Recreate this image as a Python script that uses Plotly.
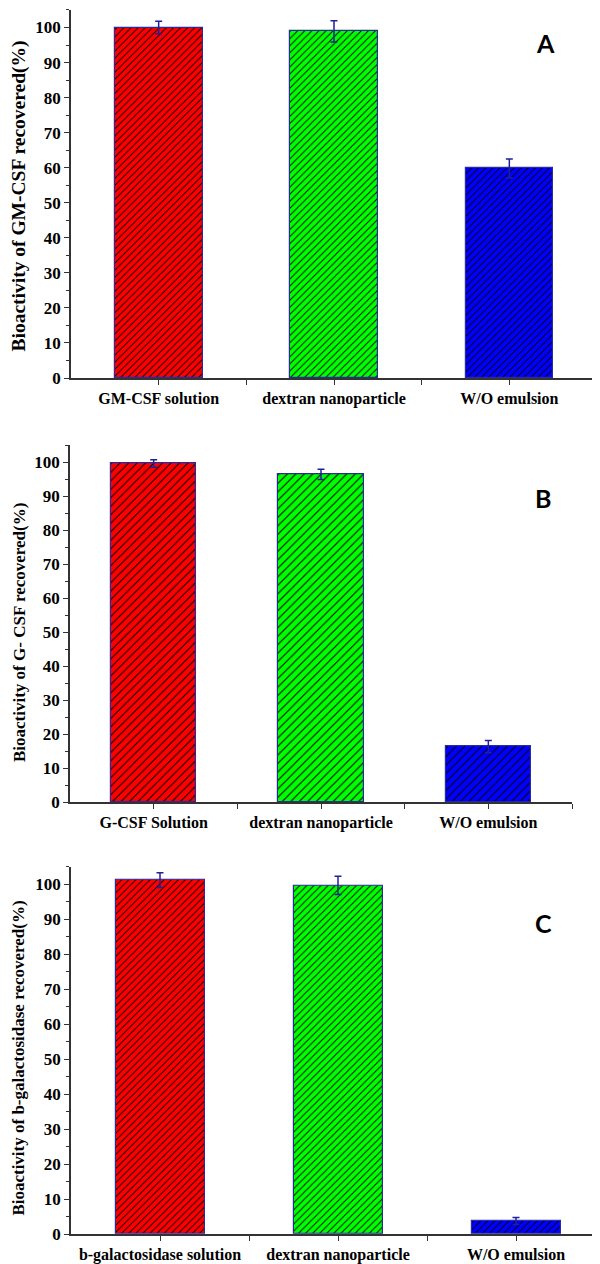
import plotly.graph_objects as go

# ---------------- data ----------------
cats_A = ["GM-CSF solution", "dextran nanoparticle", "W/O emulsion"]
vals_A = [100.0, 98.9, 59.8]
err_A = [1.8, 3.0, 2.7]

cats_B = ["G-CSF Solution", "dextran nanoparticle", "W/O emulsion"]
vals_B = [99.6, 96.4, 16.4]
err_B = [1.1, 1.5, 1.8]

cats_C = ["b-galactosidase solution", "dextran nanoparticle", "W/O emulsion"]
vals_C = [101.2, 99.7, 3.8]
err_C = [2.1, 2.6, 1.0]

titles = [
    "Bioactivity of GM-CSF recovered(%)",
    "Bioactivity of G- CSF recovered(%)",
    "Bioactivity of b-galactosidase recovered(%)",
]
panel_letters = ["A", "B", "C"]
bar_colors = ["#ff0000", "#00ff00", "#0000ff"]
y_ticks = list(range(0, 101, 10))

# ---------------- layout geometry (pixels) ----------------
W, H = 600, 1264
boxes = [(63, 589, 2, 373), (62, 564, 440.7, 800.7), (63, 597, 865.7, 1236)]
bar_widths = [0.5, 0.51, 0.5]
title_sizes = [19.5, 17, 17]
title_yc = [190, 630, 1059]
letter_pos = [(537, 35), (535, 494), (535, 922)]
hatch_sizes = [5, 6, 5]

fig = go.Figure()
serif = "Liberation Serif"
axis_col = "#333333"

for i, (cats, vals, errs) in enumerate([(cats_A, vals_A, err_A),
                                         (cats_B, vals_B, err_B),
                                         (cats_C, vals_C, err_C)]):
    n = "" if i == 0 else str(i + 1)
    for j in range(len(cats)):
        fig.add_trace(go.Bar(
            x=[j], y=[vals[j]],
            width=bar_widths[i],
            marker=dict(color=bar_colors[j],
                        line=dict(color="#2a2aa0", width=1.2),
                        pattern=dict(shape="/", fgcolor="#000000",
                                     bgcolor=bar_colors[j],
                                     size=hatch_sizes[i], solidity=0.18,
                                     fillmode="replace")),
            error_y=dict(type="data", array=[errs[j]], visible=True,
                         color="#20209a", thickness=1.5, width=3.5),
            xaxis="x" + n, yaxis="y" + n, showlegend=False,
        ))
    x0, x1, yt, yb = boxes[i]
    xd = [x0 / W, x1 / W]
    yd = [1 - yb / H, 1 - yt / H]
    fig.update_layout(**{
        "xaxis" + n: dict(
            domain=xd, anchor="y" + n, range=[-0.5, 2.5],
            tickmode="array", tickvals=[0, 1, 2], ticktext=cats,
            ticks="outside", ticklen=5, tickwidth=1.3, tickcolor=axis_col,
            minor=dict(tickmode="array", tickvals=[0.5, 1.5, 2.5], ticks="outside",
                       ticklen=5, tickwidth=1.3, tickcolor=axis_col),
            showline=True, linecolor=axis_col, linewidth=1.5,
            showgrid=False, zeroline=False, fixedrange=True,
            tickfont=dict(family=serif, size=16, color="#000000", weight="bold"),
        ),
        "yaxis" + n: dict(
            domain=yd, anchor="x" + n, range=[0, 105],
            tickmode="array", tickvals=y_ticks,
            ticks="outside", ticklen=5, tickwidth=1.3, tickcolor=axis_col,
            minor=dict(dtick=5, tick0=0, ticks="outside", ticklen=3,
                       tickwidth=1, tickcolor=axis_col),
            showline=True, linecolor=axis_col, linewidth=1.5,
            showgrid=False, zeroline=False, fixedrange=True,
            tickfont=dict(family=serif, size=17, color="#000000", weight="bold"),
        ),
    })
    fig.add_annotation(
        text=titles[i], textangle=-90, showarrow=False,
        xref="paper", yref="paper", x=11 / W, y=1 - title_yc[i] / H,
        xanchor="center", yanchor="middle",
        font=dict(family=serif, size=title_sizes[i], color="#000000", weight="bold"),
    )
    lx, ly = letter_pos[i]
    fig.add_annotation(
        text=panel_letters[i], showarrow=False,
        xref="paper", yref="paper", x=lx / W, y=1 - ly / H,
        xanchor="center", yanchor="middle",
        font=dict(family="Lato", size=25, color="#000000", weight="bold"),
    )

fig.update_layout(
    width=W, height=H,
    margin=dict(l=0, r=0, t=0, b=0),
    paper_bgcolor="white", plot_bgcolor="white",
    bargap=0, barmode="overlay",
)

fig.write_html("out.html")
